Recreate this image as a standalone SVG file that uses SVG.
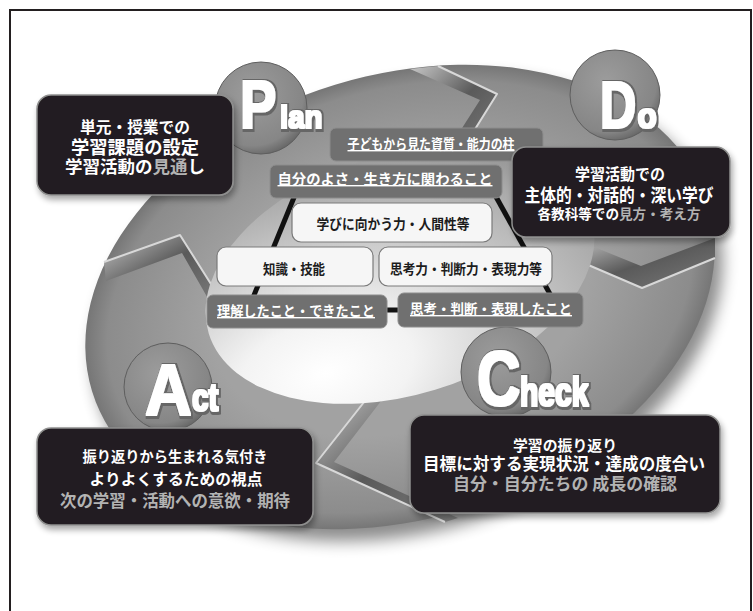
<svg xmlns="http://www.w3.org/2000/svg" width="753" height="611" viewBox="0 0 753 611">
<defs>
  <style>
    .lt{font-family:'Liberation Sans',Arial,sans-serif;font-weight:bold;fill:#fff;filter:url(#heavy)}
    .jp{font-family:'Noto Sans CJK JP','Noto Sans CJK SC',sans-serif;font-weight:bold;text-anchor:middle}
    .bt{fill:#fff}
    .g{fill:#b3b3b3}
    .lbl{fill:#fff;text-decoration:underline;font-size:14px}
    .blk{fill:#1c1c1c;font-size:14px}
    .bbox{fill:#231f20;stroke:#8f8f8f;stroke-width:1.5}
    .gbox{fill:#707070;stroke:#8c8c8c;stroke-width:1}
    .wbox{fill:#f6f6f6;stroke:#7a7a7a;stroke-width:1.2}
    .disc{fill:url(#disc);stroke:#5e5e5e;stroke-width:1}
    .gap{fill:url(#gapg)}
    .hl{fill:none;stroke:#d8d8d8;stroke-width:2;stroke-linejoin:round}
    .conn{stroke:#111;stroke-width:5;fill:none}
  </style>
  <filter id="soft" x="-20%" y="-20%" width="140%" height="140%"><feGaussianBlur stdDeviation="8"/></filter>
  <filter id="heavy" x="-20%" y="-20%" width="140%" height="140%">
    <feMorphology in="SourceAlpha" operator="dilate" radius="2.5" result="o"/>
    <feOffset in="o" dx="1" dy="1" result="oo"/>
    <feFlood flood-color="#666666"/>
    <feComposite in2="oo" operator="in" result="og"/>
    <feMorphology in="SourceGraphic" operator="dilate" radius="1.2" result="w"/>
    <feMerge><feMergeNode in="og"/><feMergeNode in="w"/></feMerge>
  </filter>
  <filter id="boxsh" x="-10%" y="-15%" width="125%" height="140%">
    <feGaussianBlur in="SourceAlpha" stdDeviation="3"/>
    <feOffset dx="2" dy="4"/>
    <feComponentTransfer><feFuncA type="linear" slope="0.35"/></feComponentTransfer>
    <feMerge><feMergeNode/><feMergeNode in="SourceGraphic"/></feMerge>
  </filter>
  <radialGradient id="ringg" cx="0.5" cy="0.5" r="0.5">
    <stop offset="0.6" stop-color="#a2a2a2"/>
    <stop offset="0.93" stop-color="#8c8c8c"/>
    <stop offset="1" stop-color="#767676"/>
  </radialGradient>
  <radialGradient id="hole" cx="0.25" cy="0.8" r="0.9">
    <stop offset="0" stop-color="#ffffff"/>
    <stop offset="0.25" stop-color="#f3f3f3"/>
    <stop offset="0.55" stop-color="#cdcdcd"/>
    <stop offset="0.85" stop-color="#a9a9a9"/>
    <stop offset="1" stop-color="#929292"/>
  </radialGradient>
  <radialGradient id="disc" cx="0.4" cy="0.35" r="0.7">
    <stop offset="0" stop-color="#9c9c9c"/>
    <stop offset="0.8" stop-color="#868686"/>
    <stop offset="1" stop-color="#626262"/>
  </radialGradient>
  <linearGradient id="gapg" x1="0" y1="0" x2="1" y2="1">
    <stop offset="0" stop-color="#c8c8c8"/>
    <stop offset="0.5" stop-color="#5a5a5a"/>
    <stop offset="1" stop-color="#7a7a7a"/>
  </linearGradient>
</defs>

<rect x="0" y="0" width="753" height="611" fill="#fff"/>
<rect x="10" y="10" width="741" height="640" fill="none" stroke="#231f20" stroke-width="2"/>

<g id="cycle-ring">
  <ellipse cx="0" cy="0" rx="322" ry="222" transform="translate(408,309) rotate(-17)" fill="#000" opacity="0.45" filter="url(#soft)"/>
  <ellipse cx="0" cy="0" rx="322" ry="222" transform="translate(400,297) rotate(-17)" fill="url(#ringg)"/>
  <polygon class="gap" points="410,69 438,66 497,94 462,150 448,150 480,100"/>
  <polyline class="hl" points="438,66 497,94 462,150"/>
  <polygon class="gap" points="572,238 641,266 715,238 715,258 642,288 572,258"/>
  <polyline class="hl" points="572,258 642,288 715,258"/>
  <polygon class="gap" points="372,392 316,463 445,522 458,518 334,462 388,392"/>
  <polyline class="hl" points="372,392 316,463 445,522"/>
  <polygon class="gap" points="104,262 180,235 216,292 210,302 182,253 106,281"/>
  <polyline class="hl" points="104,262 180,235 216,292"/>
  <ellipse cx="0" cy="0" rx="200" ry="120" transform="translate(400,275) rotate(-17)" fill="url(#hole)"/>
</g>

<g id="plan-badge">
  <circle class="disc" cx="261" cy="108" r="46"/>
  <text class="lt" font-size="68" transform="translate(240,128) scale(0.8,1)">P</text>
  <text class="lt" font-size="31" transform="translate(280,128) scale(0.95,1)">lan</text>
</g>
<g id="do-badge">
  <circle class="disc" cx="615" cy="95" r="45"/>
  <text class="lt" font-size="66" transform="translate(600,128) scale(0.76,1)">D</text>
  <text class="lt" font-size="35" transform="translate(637.5,128) scale(0.9,1)">o</text>
</g>
<g id="act-badge">
  <circle class="disc" cx="168" cy="387" r="44"/>
  <text class="lt" font-size="72" transform="translate(145,415) scale(0.9,1)">A</text>
  <text class="lt" font-size="38" transform="translate(192,411) scale(0.78,1)">ct</text>
</g>
<g id="check-badge">
  <circle class="disc" cx="506" cy="372" r="45"/>
  <text class="lt" font-size="77" transform="translate(477,405) scale(0.78,1)">C</text>
  <text class="lt" font-size="40" transform="translate(520,406) scale(0.75,1)">heck</text>
</g>

<g id="connectors">
  <line class="conn" x1="295" y1="195" x2="250" y2="305"/>
  <line class="conn" x1="495" y1="195" x2="555" y2="303"/>
  <line class="conn" x1="385" y1="310" x2="400" y2="310" stroke-width="6"/>
</g>

<g id="pillar-title">
  <rect class="gbox" x="330" y="128" width="213" height="33" rx="6"/>
  <text class="jp lbl" x="431" y="149" font-size="13.5" textLength="167" lengthAdjust="spacingAndGlyphs">子どもから見た資質・能力の柱</text>
</g>
<g id="self-label">
  <rect class="gbox" x="270" y="165" width="232" height="33" rx="6"/>
  <text class="jp lbl" x="385" y="184" textLength="215" lengthAdjust="spacingAndGlyphs">自分のよさ・生き方に関わること</text>
</g>
<g id="understood-label">
  <rect class="gbox" x="207" y="295" width="180" height="33" rx="6"/>
  <text class="jp lbl" x="296" y="316" textLength="158" lengthAdjust="spacingAndGlyphs">理解したこと・できたこと</text>
</g>
<g id="thought-label">
  <rect class="gbox" x="398" y="293" width="185" height="34" rx="6"/>
  <text class="jp lbl" x="491" y="314" textLength="162" lengthAdjust="spacingAndGlyphs">思考・判断・表現したこと</text>
</g>
<g id="humanity">
  <rect class="wbox" x="292" y="203" width="200" height="39" rx="9"/>
  <text class="jp blk" x="393" y="229" textLength="153" lengthAdjust="spacingAndGlyphs">学びに向かう力・人間性等</text>
</g>
<g id="knowledge">
  <rect class="wbox" x="217" y="247" width="156" height="39" rx="9"/>
  <text class="jp blk" x="294" y="274" textLength="62" lengthAdjust="spacingAndGlyphs">知識・技能</text>
</g>
<g id="thinking">
  <rect class="wbox" x="379" y="247" width="173" height="39" rx="9"/>
  <text class="jp blk" x="466" y="274" textLength="152" lengthAdjust="spacingAndGlyphs">思考力・判断力・表現力等</text>
</g>

<g id="plan-box">
  <rect class="bbox" x="37" y="95" width="196" height="100" rx="14" filter="url(#boxsh)"/>
  <text class="jp bt" x="135" y="133" font-size="16" textLength="110" lengthAdjust="spacingAndGlyphs">単元・授業での</text>
  <text class="jp bt" x="135" y="154" font-size="18" textLength="128" lengthAdjust="spacingAndGlyphs">学習課題の設定</text>
  <text class="jp bt" x="135" y="173" font-size="17" textLength="140" lengthAdjust="spacingAndGlyphs">学習活動の<tspan class="g">見通</tspan>し</text>
</g>
<g id="do-box">
  <rect class="bbox" x="512" y="147" width="218" height="90" rx="14" filter="url(#boxsh)"/>
  <text class="jp bt" x="620" y="180" font-size="16" textLength="90" lengthAdjust="spacingAndGlyphs">学習活動での</text>
  <text class="jp bt" x="619" y="202" font-size="18" textLength="189" lengthAdjust="spacingAndGlyphs">主体的・対話的・深い学び</text>
  <text class="jp bt" x="619" y="219" font-size="14" textLength="163" lengthAdjust="spacingAndGlyphs">各教科等での<tspan class="g">見方・考え方</tspan></text>
</g>
<g id="act-box">
  <rect class="bbox" x="37" y="428" width="276" height="97" rx="14" filter="url(#boxsh)"/>
  <text class="jp bt" x="175" y="462" font-size="14.5" textLength="185" lengthAdjust="spacingAndGlyphs">振り返りから生まれる気付き</text>
  <text class="jp bt" x="176" y="485" font-size="16" textLength="173" lengthAdjust="spacingAndGlyphs">よりよくするための視点</text>
  <text class="jp g" x="175" y="507" font-size="17" textLength="230" lengthAdjust="spacingAndGlyphs">次の学習・活動への意欲・期待</text>
</g>
<g id="check-box">
  <rect class="bbox" x="410" y="415" width="310" height="98" rx="14" filter="url(#boxsh)"/>
  <text class="jp bt" x="565" y="451" font-size="14.5" textLength="104" lengthAdjust="spacingAndGlyphs">学習の振り返り</text>
  <text class="jp bt" x="564" y="470" font-size="17" textLength="282" lengthAdjust="spacingAndGlyphs">目標に対する実現状況・達成の度合い</text>
  <text class="jp g" x="565" y="490" font-size="17" textLength="224" lengthAdjust="spacingAndGlyphs">自分・自分たちの 成長の確認</text>
</g>
</svg>
